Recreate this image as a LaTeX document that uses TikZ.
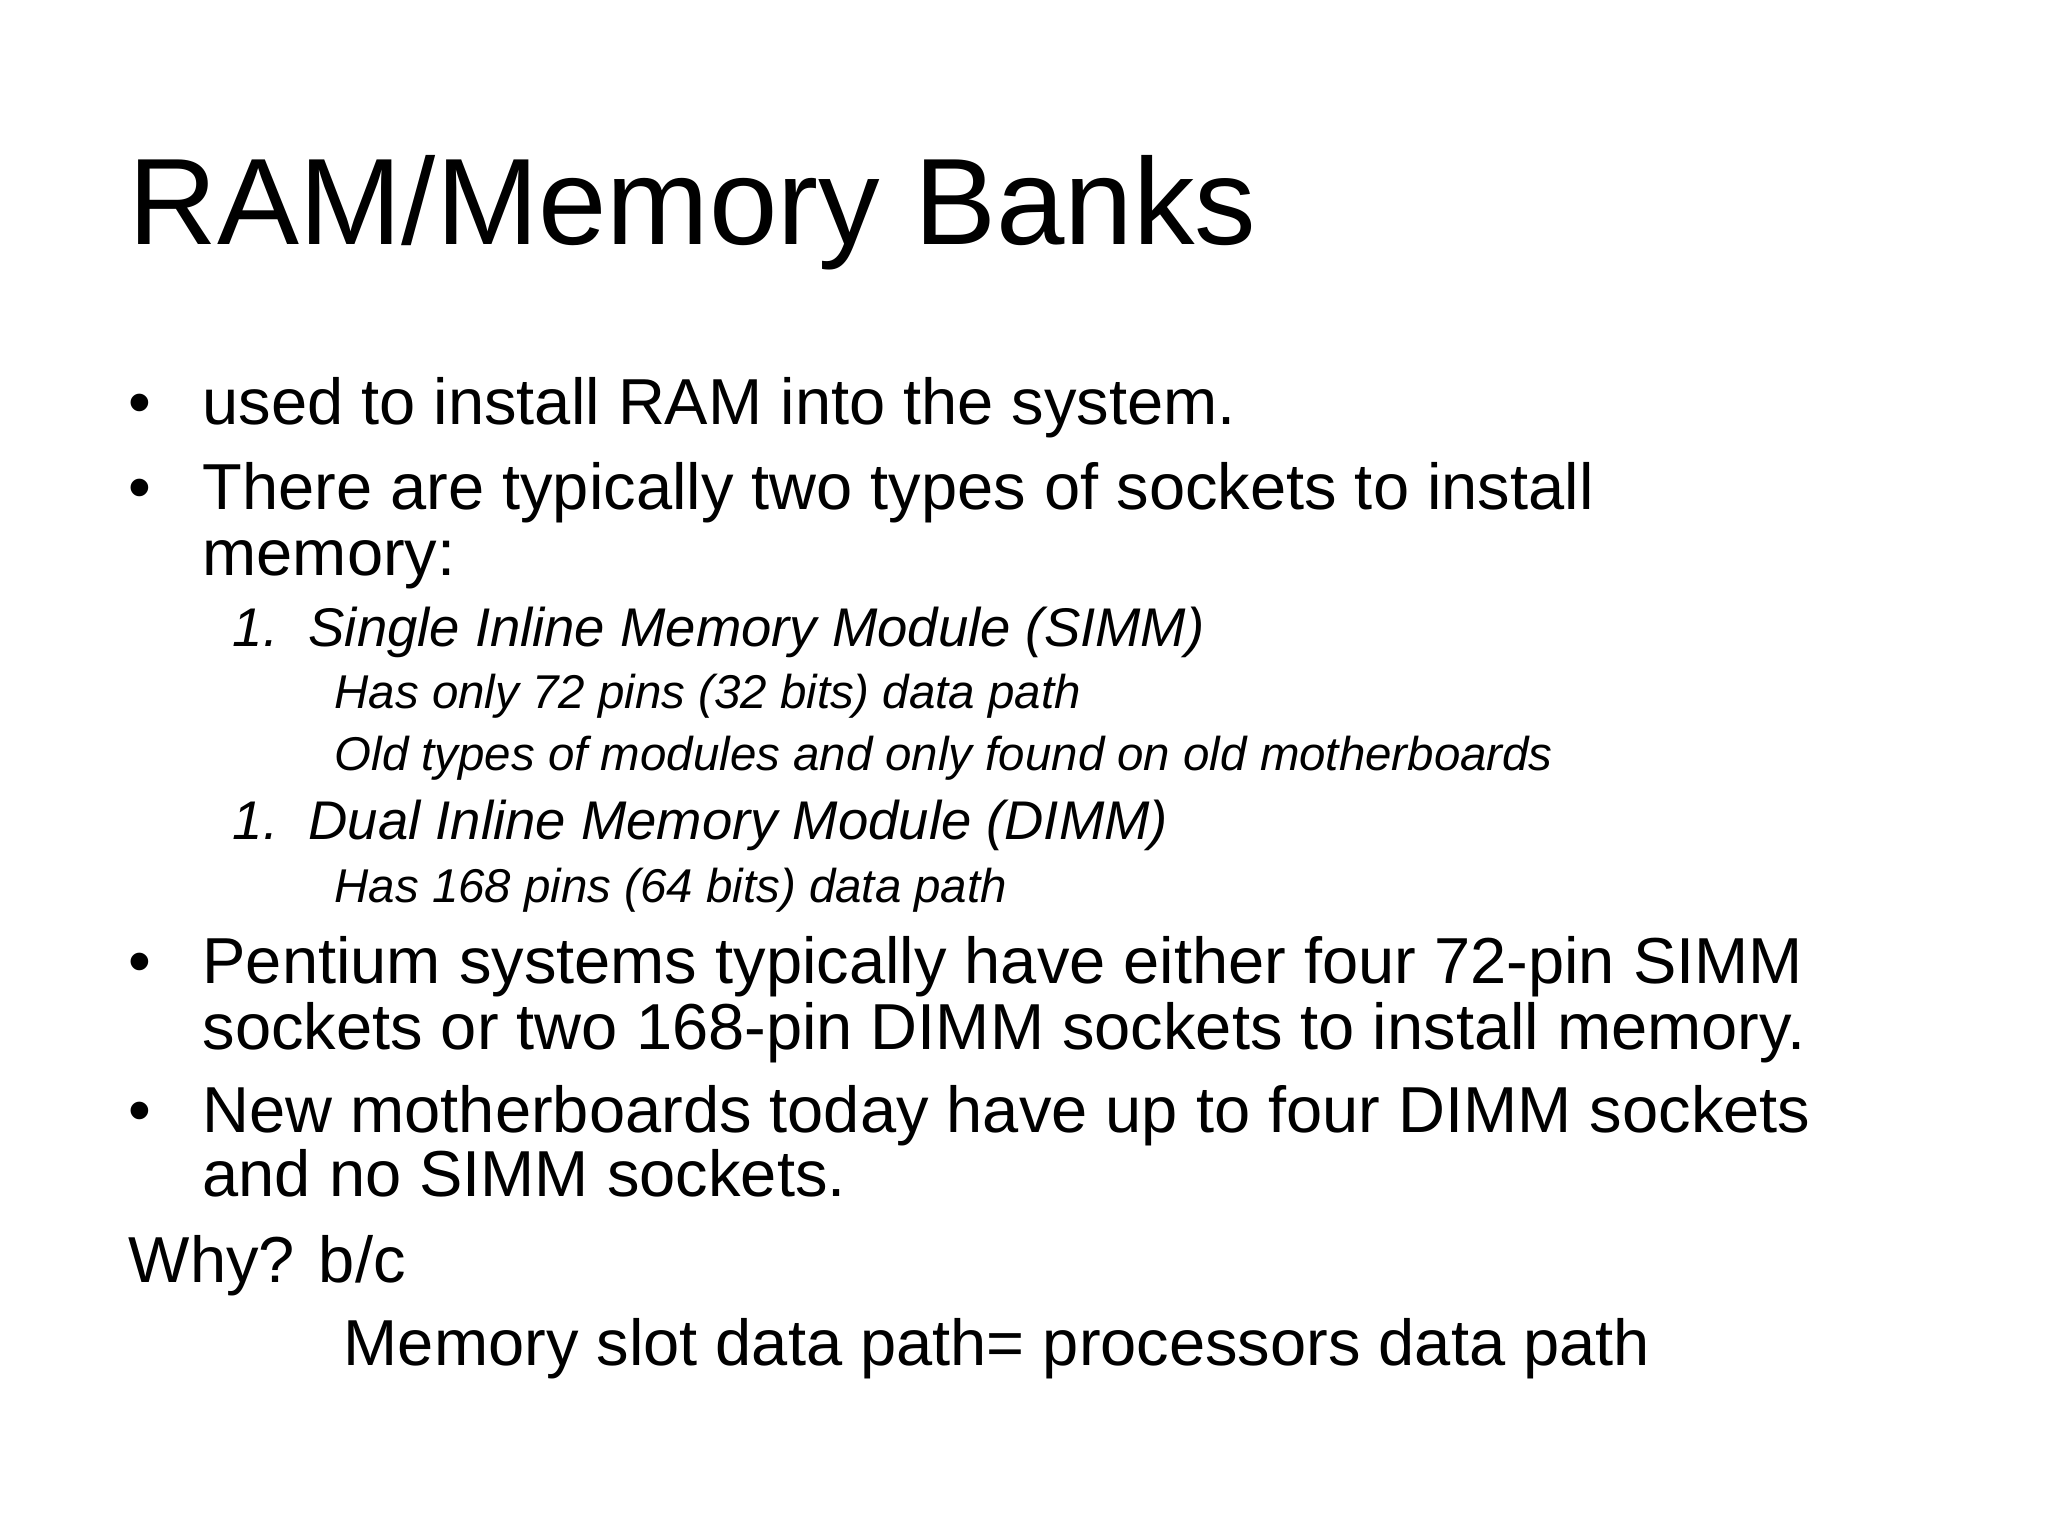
\documentclass[tikz,border=0pt]{standalone}
\usepackage{fontspec}
\setmainfont{Liberation Sans}
\begin{document}
\begin{tikzpicture}[x=0.013196cm,y=-0.013196cm,
  t/.style={anchor=base west,inner sep=0pt},
  title/.style={t,font=\fontsize{35}{40}\selectfont},
  lv1/.style={t,font=\fontsize{18.5}{22}\selectfont},
  lv2/.style={t,font=\fontsize{15.5}{18}\itshape\selectfont},
  lv3/.style={t,font=\fontsize{13.5}{16}\itshape\selectfont}]
\useasboundingbox[fill=white] (0,0) rectangle (1552,1164);
\node[title] (ti) at (97,185) {RAM/Memory Banks};
\node[lv1] (b1) at (97,322) {•}; \node[lv1] (l1) at (153,322) {used to install RAM into the system.};
\node[lv1] (b2) at (97,386) {•}; \node[lv1] (l2) at (153,386) {There are typically two types of sockets to install};
\node[lv1] (l2b) at (153,436) {memory:};
\node[lv2] (s1) at (176,490) {1.\ \ Single Inline Memory Module (SIMM)};
\node[lv3] (s1a) at (253,537) {Has only 72 pins (32 bits) data path};
\node[lv3] (s1b) at (253,584) {Old types of modules and only found on old motherboards};
\node[lv2] (s2) at (176,636) {1.\ \ Dual Inline Memory Module (DIMM)};
\node[lv3] (s2a) at (253,684) {Has 168 pins (64 bits) data path};
\node[lv1] (b3) at (97,745) {•}; \node[lv1] (l3) at (153,745) {Pentium systems typically have either four 72-pin SIMM};
\node[lv1] (l3b) at (153,795) {sockets or two 168-pin DIMM sockets to install memory.};
\node[lv1] (b4) at (97,858) {•}; \node[lv1] (l4) at (153,858) {New motherboards today have up to four DIMM sockets};
\node[lv1] (l4b) at (153,907) {and no SIMM sockets.};
\node[lv1] (w) at (97,972) {Why? b/c};
\node[lv1] (m) at (260,1035) {Memory slot data path= processors data path};
\end{tikzpicture}
\end{document}
